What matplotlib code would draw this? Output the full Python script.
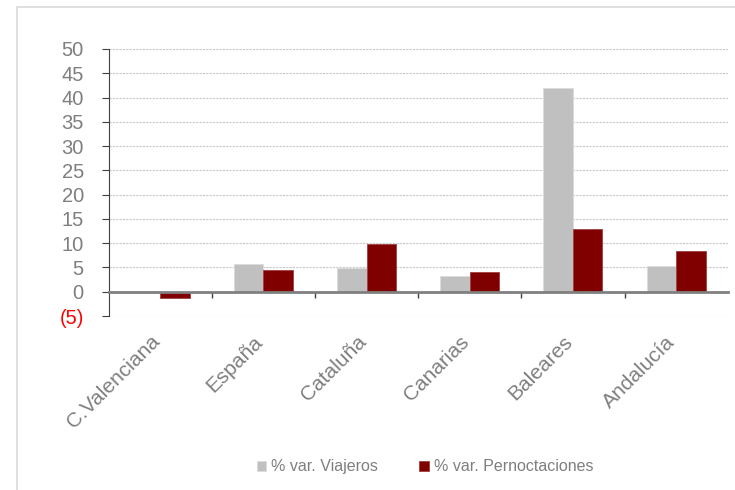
import numpy as np
import matplotlib.pyplot as plt
import matplotlib.transforms as mtransforms
from matplotlib.patches import Rectangle

# data
regions = ["C.Valenciana", "España", "Cataluña", "Canarias", "Baleares", "Andalucía"]
viajeros = [-0.1, 5.8, 4.8, 3.2, 42.0, 5.4]
pernoctaciones = [-1.2, 4.5, 9.8, 4.0, 13.0, 8.5]
yticks = list(range(-5, 55, 5))
ytick_labels = ["(5)"] + [str(v) for v in yticks[1:]]

GRAY_TXT = "#7f7f7f"
DARK = "#404040"

plt.rcParams["font.family"] = ["Liberation Sans", "DejaVu Sans"]

fig = plt.figure(figsize=(7.35, 4.9), dpi=100)

# light frame around the chart (right/bottom edges fall outside the image)
fig.patches.append(Rectangle((17 / 735, -0.05), 1.1, 1.05 - 7 / 490,
                             transform=fig.transFigure, fill=False,
                             edgecolor="#d9d9d9", linewidth=1.2))

ax = fig.add_axes([0.148, 0.355, 0.842, 0.545])

x = np.arange(len(regions))
w = 0.286
ax.bar(x - w / 2, viajeros, w, color="#c0c0c0", edgecolor="#dcdcdc",
       linewidth=0.6, label="% var. Viajeros", zorder=3)
ax.bar(x + w / 2, pernoctaciones, w, color="#800000", edgecolor="#a04040",
       linewidth=0.6, label="% var. Pernoctaciones", zorder=3)

ax.set_xlim(-0.5, len(regions) - 0.5)
ax.set_ylim(-5, 50)
ax.set_yticks(yticks)
ax.set_yticklabels(ytick_labels)
ax.yaxis.grid(True, linestyle=(0, (2, 1)), color="#c8c8c8", linewidth=0.8)
ax.set_axisbelow(True)

for s in ["top", "right"]:
    ax.spines[s].set_visible(False)
ax.spines["left"].set_color(DARK)
ax.spines["bottom"].set_position(("data", 0))
ax.spines["bottom"].set_color("#808080")
ax.spines["bottom"].set_linewidth(2)
ax.spines["bottom"].set_zorder(4)

ax.set_xticks(x)
ax.set_xticklabels(regions, rotation=45, ha="right")
ax.set_xticks(np.arange(0.5, len(regions) - 0.5, 1), minor=True)
ax.tick_params(axis="x", which="major", length=0, pad=29,
               labelsize=15, labelcolor=GRAY_TXT)
ax.tick_params(axis="x", which="minor", length=4.5, direction="out",
               color=DARK, width=1)
ax.tick_params(axis="y", length=5, color=DARK, pad=13,
               labelsize=14.5, labelcolor=GRAY_TXT)
ax.get_yticklabels()[0].set_color("red")

shift = mtransforms.ScaledTranslation(3 / 100, 0, fig.dpi_scale_trans)
for lab in ax.get_xticklabels():
    lab.set_transform(lab.get_transform() + shift)

leg = fig.legend(loc="center", bbox_to_anchor=(0.578, 0.047), ncol=2,
                 frameon=False, fontsize=11.5, handlelength=0.6,
                 handleheight=0.6, handletextpad=0.3, columnspacing=2.6)
for t in leg.get_texts():
    t.set_color(GRAY_TXT)

fig.savefig("out.png", dpi=100)
